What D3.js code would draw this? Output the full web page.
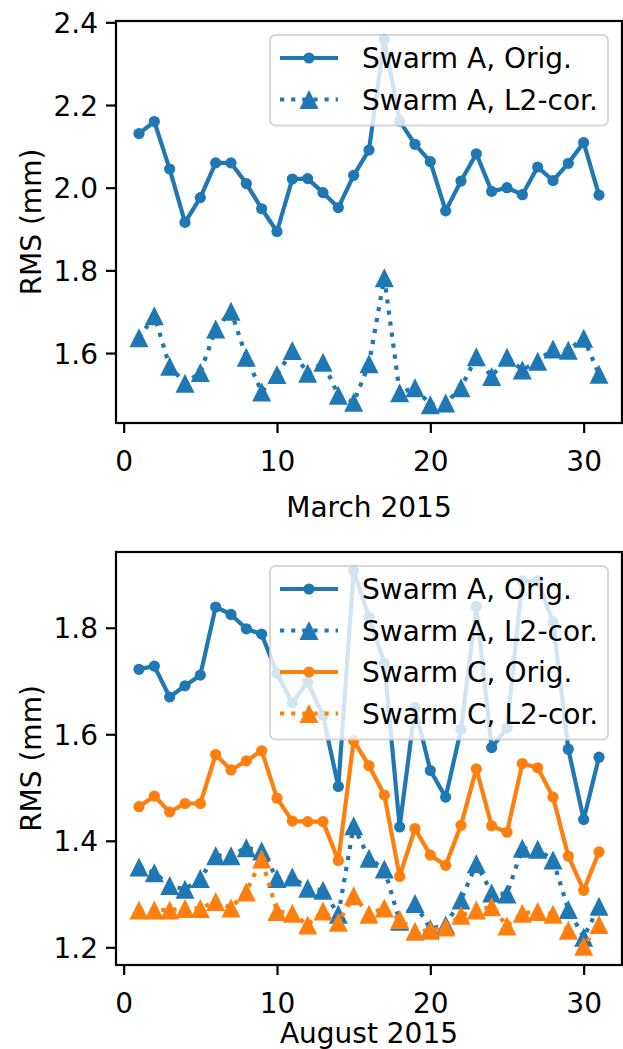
<!DOCTYPE html>
<html>
<head>
<meta charset="utf-8">
<script src="https://cdn.jsdelivr.net/npm/d3@7"></script>
<style>
  body { margin: 0; background: #fff; }
  svg { display: block; font-family: "DejaVu Sans", sans-serif; }
</style>
</head>
<body>
<svg id="chart" width="623" height="1049"></svg>
<script>
// days of the month
var days = [1,2,3,4,5,6,7,8,9,10,11,12,13,14,15,16,17,18,19,20,21,22,23,24,25,26,27,28,29,30,31];
var xTicks = [0, 10, 20, 30];

// March 2015
var marchAOrig = [2.131,2.160,2.045,1.916,1.976,2.060,2.060,2.010,1.949,1.894,2.021,2.022,1.988,1.952,2.030,2.091,2.359,2.161,2.105,2.063,1.944,2.016,2.082,1.991,2.000,1.983,2.050,2.017,2.059,2.109,1.982];
var marchAL2  = [1.637,1.690,1.568,1.527,1.553,1.658,1.701,1.590,1.506,1.548,1.606,1.551,1.578,1.498,1.481,1.574,1.782,1.504,1.516,1.475,1.479,1.516,1.591,1.543,1.590,1.559,1.580,1.610,1.607,1.636,1.549];
var marchTicks = [1.6, 1.8, 2.0, 2.2, 2.4];

// August 2015
var augAOrig = [1.722,1.728,1.670,1.691,1.711,1.839,1.825,1.798,1.788,1.714,1.659,1.698,1.635,1.502,1.907,1.820,1.733,1.426,1.650,1.532,1.482,1.609,1.840,1.575,1.612,1.888,1.888,1.811,1.572,1.440,1.557];
var augAL2  = [1.351,1.340,1.316,1.309,1.329,1.372,1.372,1.387,1.381,1.329,1.332,1.311,1.307,1.262,1.428,1.367,1.347,1.249,1.282,1.235,1.242,1.289,1.357,1.302,1.300,1.386,1.384,1.364,1.271,1.219,1.277];
var augCOrig = [1.464,1.484,1.454,1.470,1.470,1.562,1.533,1.550,1.569,1.480,1.437,1.436,1.436,1.363,1.588,1.541,1.486,1.333,1.423,1.373,1.354,1.429,1.535,1.428,1.416,1.545,1.537,1.482,1.371,1.307,1.379];
var augCL2  = [1.270,1.270,1.270,1.273,1.273,1.286,1.274,1.304,1.366,1.267,1.264,1.242,1.268,1.247,1.297,1.262,1.274,1.252,1.230,1.232,1.238,1.260,1.270,1.276,1.240,1.264,1.267,1.262,1.232,1.202,1.243];
var augTicks = [1.2, 1.4, 1.6, 1.8];

var blue = "#1f77b4", orange = "#ff7f0e";
var fontSize = 28, lw = 4.2, circleR = 5.6, triH = 19;

var svg = d3.select("#chart");

// triangle marker centred on its bounding box (like matplotlib '^')
function triPath(cx, cy, h) {
  var p = d3.path();
  p.moveTo(cx, cy - h / 2);
  p.lineTo(cx + h / 2, cy + h / 2);
  p.lineTo(cx - h / 2, cy + h / 2);
  p.closePath();
  return p.toString();
}

function panel(opts) {
  var left = 116, right = 622, top = opts.top, bottom = opts.bottom;
  var g = svg.append("g");

  // matplotlib style 5% margins
  var all = [].concat.apply([], opts.series.map(function(s) { return s.values; }));
  var lo = d3.min(all), hi = d3.max(all), ext = hi - lo;
  var x = d3.scaleLinear().domain([1 - 1.5, 31 + 1.5]).range([left, right]);
  var y = d3.scaleLinear().domain([lo - 0.05 * ext, hi + 0.05 * ext]).range([bottom, top]);

  var line = d3.line()
      .x(function(d, i) { return x(days[i]); })
      .y(function(d) { return y(d); });

  opts.series.forEach(function(s) {
    g.append("path")
        .datum(s.values)
        .attr("d", line)
        .attr("fill", "none")
        .attr("stroke", s.color)
        .attr("stroke-width", lw)
        .attr("stroke-linejoin", "round")
        .attr("stroke-dasharray", s.dotted ? lw + "," + (lw * 1.65) : null);
    if (s.marker === "o") {
      g.append("g").selectAll("circle")
        .data(s.values)
        .enter().append("circle")
          .attr("cx", function(d, i) { return x(days[i]); })
          .attr("cy", function(d) { return y(d); })
          .attr("r", circleR)
          .attr("fill", s.color);
    } else {
      g.append("g").selectAll("path")
        .data(s.values)
        .enter().append("path")
          .attr("d", function(d, i) { return triPath(x(days[i]), y(d), triH); })
          .attr("fill", s.color);
    }
  });

  // axes
  var xAxis = g.append("g")
      .attr("transform", "translate(0," + bottom + ")")
      .call(d3.axisBottom(x).tickValues(xTicks).tickSize(10).tickSizeOuter(0).tickFormat(d3.format("d")));
  xAxis.selectAll("text").attr("y", 48).attr("dy", 0);

  var yAxis = g.append("g")
      .attr("transform", "translate(" + left + ",0)")
      .call(d3.axisLeft(y).tickValues(opts.ticks).tickSize(10).tickSizeOuter(0).tickFormat(d3.format(".1f")));
  yAxis.selectAll("text").attr("x", -18).attr("dy", "0.36em");

  [xAxis, yAxis].forEach(function(a) {
    a.select(".domain").remove();
    a.selectAll("line").attr("stroke", "#000").attr("stroke-width", 2.2);
    a.selectAll("text").attr("font-size", fontSize).attr("fill", "#000").attr("font-family", "DejaVu Sans");
  });

  // spines
  g.append("rect")
      .attr("x", left).attr("y", top)
      .attr("width", right - left).attr("height", bottom - top)
      .attr("fill", "none").attr("stroke", "#000").attr("stroke-width", 2.2);

  // axis labels
  g.append("text")
      .attr("x", (left + right) / 2).attr("y", bottom + opts.xlabelGap)
      .attr("text-anchor", "middle").attr("font-size", fontSize)
      .text(opts.xlabel);
  g.append("text")
      .attr("transform", "translate(41," + (top + bottom) / 2 + ") rotate(-90)")
      .attr("text-anchor", "middle").attr("font-size", fontSize)
      .text("RMS (mm)");

  // legend
  var lg = g.append("g");
  var rowH = 41.5, ly = top + 14;
  lg.append("rect")
      .attr("x", 270).attr("y", ly)
      .attr("width", 338).attr("height", 24 + rowH * (opts.series.length - 1) + 25)
      .attr("rx", 5.6)
      .attr("fill", "#fff").attr("fill-opacity", 0.8)
      .attr("stroke", "#ccc").attr("stroke-opacity", 0.8).attr("stroke-width", 2);

  var rows = lg.selectAll("g.row")
      .data(opts.series)
      .enter().append("g")
        .attr("class", "row")
        .attr("transform", function(d, i) { return "translate(0," + (ly + 23 + i * rowH) + ")"; });

  rows.append("line")
      .attr("x1", 280).attr("x2", 338)
      .attr("stroke", function(d) { return d.color; })
      .attr("stroke-width", lw)
      .attr("stroke-dasharray", function(d) { return d.dotted ? lw + "," + (lw * 1.65) : null; });
  rows.each(function(d) {
    var r = d3.select(this);
    if (d.marker === "o") {
      r.append("circle").attr("cx", 309).attr("cy", 0).attr("r", circleR).attr("fill", d.color);
    } else {
      r.append("path").attr("d", triPath(309, 0, triH)).attr("fill", d.color);
    }
  });
  rows.append("text")
      .attr("x", 362).attr("y", 0).attr("dy", "0.36em")
      .attr("font-size", fontSize)
      .text(function(d) { return d.name; });
}

panel({
  top: 21, bottom: 423, xlabel: "March 2015", xlabelGap: 94, ticks: marchTicks,
  series: [
    {name: "Swarm A, Orig.", values: marchAOrig, color: blue, marker: "o", dotted: false},
    {name: "Swarm A, L2-cor.", values: marchAL2, color: blue, marker: "^", dotted: true}
  ]
});

panel({
  top: 552, bottom: 965, xlabel: "August 2015", xlabelGap: 78, ticks: augTicks,
  series: [
    {name: "Swarm A, Orig.", values: augAOrig, color: blue, marker: "o", dotted: false},
    {name: "Swarm A, L2-cor.", values: augAL2, color: blue, marker: "^", dotted: true},
    {name: "Swarm C, Orig.", values: augCOrig, color: orange, marker: "o", dotted: false},
    {name: "Swarm C, L2-cor.", values: augCL2, color: orange, marker: "^", dotted: true}
  ]
});
</script>
</body>
</html>
